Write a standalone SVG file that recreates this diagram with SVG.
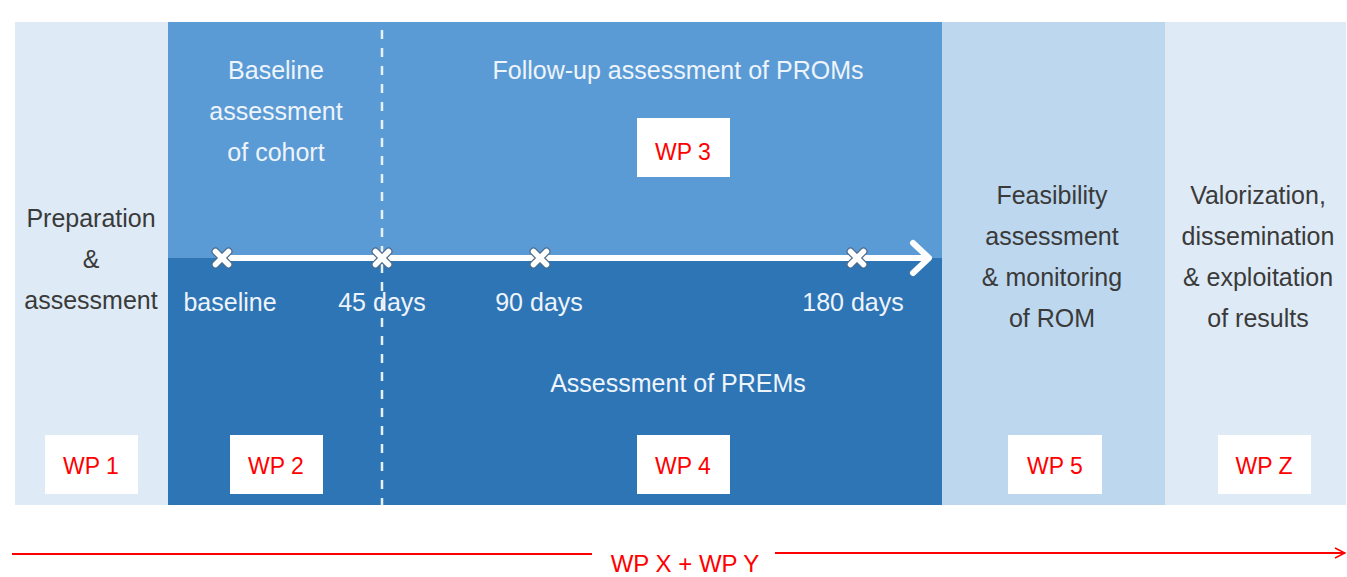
<svg xmlns="http://www.w3.org/2000/svg" width="1347" height="577" viewBox="0 0 1347 577">
<defs>
<style>
.t{font-family:"Liberation Sans",Arial,sans-serif;font-size:25px;text-anchor:middle}
.dk{fill:#3a3a3a}
.wt{fill:#eef4fb}
.wp{font-family:"Liberation Sans",Arial,sans-serif;font-size:23px;text-anchor:middle;fill:#ff0000}
.box{fill:#ffffff}
.xo{stroke:#4d6b8a;stroke-width:8;stroke-linecap:round;fill:none}
.xi{stroke:#ffffff;stroke-width:5.5;stroke-linecap:round;fill:none}
</style>
<marker id="ra" viewBox="0 0 12 12" refX="11" refY="6" markerWidth="12" markerHeight="12" markerUnits="userSpaceOnUse" orient="auto">
<path d="M1,1 L11,6 L1,11" fill="none" stroke="#ff0000" stroke-width="1.5"/>
</marker>
<g id="xm"><path class="xo" d="M-6.5,-6.5 L6.5,6.5 M-6.5,6.5 L6.5,-6.5"/><path class="xi" d="M-6.5,-6.5 L6.5,6.5 M-6.5,6.5 L6.5,-6.5"/></g>
</defs>
<rect width="1347" height="577" fill="#ffffff"/>
<g id="wp1">
<rect x="15" y="22" width="153" height="483" fill="#deeaf6"/>
<text class="t dk" x="91" y="227">Preparation</text>
<text class="t dk" x="91" y="268">&amp;</text>
<text class="t dk" x="91" y="309">assessment</text>
<rect class="box" x="45" y="435" width="93" height="59"/>
<text class="wp" x="91" y="474">WP 1</text>
</g>
<g id="wp234">
<rect x="168" y="22" width="774" height="236" fill="#5b9bd5"/>
<rect x="168" y="258" width="774" height="247" fill="#2e75b6"/>
<line x1="382" y1="30" x2="382" y2="505" stroke="#e8f0f8" stroke-width="2.5" stroke-dasharray="9,9"/>
</g>
<g id="wp2">
<text class="t wt" x="276" y="79">Baseline</text>
<text class="t wt" x="276" y="120">assessment</text>
<text class="t wt" x="276" y="161">of cohort</text>
<rect class="box" x="230" y="435" width="93" height="59"/>
<text class="wp" x="276" y="474">WP 2</text>
</g>
<g id="wp3">
<text class="t wt" x="678" y="79">Follow-up assessment of PROMs</text>
<rect class="box" x="637" y="118" width="93" height="59"/>
<text class="wp" x="683" y="160">WP 3</text>
</g>
<g id="wp4">
<text class="t wt" x="678" y="392">Assessment of PREMs</text>
<rect class="box" x="637" y="435" width="93" height="59"/>
<text class="wp" x="683" y="474">WP 4</text>
</g>
<g id="wp5">
<rect x="942" y="22" width="223" height="483" fill="#bdd7ee"/>
<text class="t dk" x="1052" y="204">Feasibility</text>
<text class="t dk" x="1052" y="245">assessment</text>
<text class="t dk" x="1052" y="286">&amp; monitoring</text>
<text class="t dk" x="1052" y="327">of ROM</text>
<rect class="box" x="1008" y="435" width="94" height="59"/>
<text class="wp" x="1055" y="474">WP 5</text>
</g>
<g id="wpz">
<rect x="1165" y="22" width="181" height="483" fill="#deeaf6"/>
<text class="t dk" x="1258" y="204">Valorization,</text>
<text class="t dk" x="1258" y="245">dissemination</text>
<text class="t dk" x="1258" y="286">&amp; exploitation</text>
<text class="t dk" x="1258" y="327">of results</text>
<rect class="box" x="1218" y="435" width="93" height="59"/>
<text class="wp" x="1264" y="474">WP Z</text>
</g>
<g id="timeline">
<line x1="222" y1="258" x2="928" y2="258" stroke="#ffffff" stroke-width="6"/>
<path d="M913,243 L929,258 L913,273" fill="none" stroke="#ffffff" stroke-width="6" stroke-linecap="round" stroke-linejoin="round"/>
<use href="#xm" x="222" y="258"/>
<use href="#xm" x="382" y="258"/>
<use href="#xm" x="540" y="258"/>
<use href="#xm" x="857" y="258"/>
<text class="t wt" x="230" y="311">baseline</text>
<text class="t wt" x="382" y="311">45 days</text>
<text class="t wt" x="539" y="311">90 days</text>
<text class="t wt" x="853" y="311">180 days</text>
</g>
<g id="connectors">
<line x1="12" y1="554" x2="592" y2="554" stroke="#ff0000" stroke-width="1.8"/>
<line x1="775" y1="553" x2="1345" y2="553" stroke="#ff0000" stroke-width="1.8" marker-end="url(#ra)"/>
</g>
<g id="wpxy">
<text class="wp" x="685" y="572" style="font-size:24px">WP X + WP Y</text>
</g>
</svg>
